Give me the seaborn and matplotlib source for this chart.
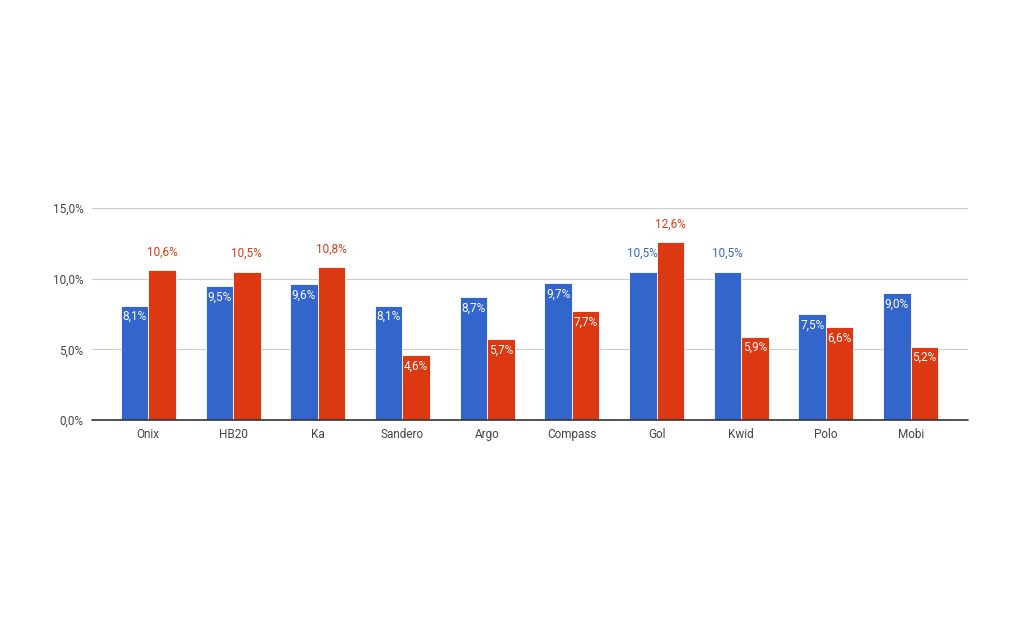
import pandas as pd
import matplotlib
matplotlib.use("Agg")
import matplotlib.pyplot as plt
import seaborn as sns

# --- data ---
models = ['Onix', 'HB20', 'Ka', 'Sandero', 'Argo', 'Compass', 'Gol', 'Kwid', 'Polo', 'Mobi']
serie_a = [8.1, 9.5, 9.6, 8.1, 8.7, 9.7, 10.5, 10.5, 7.5, 9.0]
serie_b = [10.6, 10.5, 10.8, 4.6, 5.7, 7.7, 12.6, 5.9, 6.6, 5.2]
y_ticks = [0, 5, 10, 15]

blue = '#3366cc'
red = '#dc3912'

df = pd.DataFrame({
    'modelo': models * 2,
    'valor': serie_a + serie_b,
    'serie': ['A'] * len(models) + ['B'] * len(models),
})

sns.set_theme(style="white")
plt.rcParams['font.family'] = ['Roboto', 'DejaVu Sans']

fig = plt.figure(figsize=(10.24, 6.4), dpi=100)
ax = fig.add_axes([92 / 1024, 1 - 420 / 640, 876 / 1024, 212 / 640])

sns.barplot(data=df, x='modelo', y='valor', hue='serie', palette=[blue, red],
            saturation=1, width=0.65, gap=0.0, edgecolor='white', linewidth=0.6,
            legend=False, ax=ax)

ax.set_ylim(0, 15)
ax.set_xlim(-0.665, len(models) - 0.323)
ax.set_yticks(y_ticks)
ax.set_yticklabels([f'{t:.1f}'.replace('.', ',') + '%' for t in y_ticks])
ax.yaxis.grid(True, color='#cccccc', linewidth=0.8)
ax.set_axisbelow(True)
ax.axhline(0, color='#333333', linewidth=1.2, zorder=5, clip_on=False)
for s in ax.spines.values():
    s.set_visible(False)
ax.set_xlabel('')
ax.set_ylabel('')
ax.tick_params(axis='both', length=0, labelsize=8.5, colors='#444444')
ax.tick_params(axis='x', pad=6)
ax.tick_params(axis='y', pad=6)

# value labels: tall bars get the label above in bar colour, others inside in white
for cont, col in zip(ax.containers, [blue, red]):
    for bar in cont:
        v = bar.get_height()
        txt = f'{v:.1f}'.replace('.', ',') + '%'
        xc = bar.get_x() + bar.get_width() / 2
        if v >= 10.5:
            ax.annotate(txt, (xc, v), xytext=(0, 13), textcoords='offset points',
                        ha='center', va='center', fontsize=8.5, color=col)
        else:
            ax.annotate(txt, (xc, v), xytext=(0, -8), textcoords='offset points',
                        ha='center', va='center', fontsize=8.5, color='white')

fig.savefig('out.png', dpi=100, facecolor='white')
